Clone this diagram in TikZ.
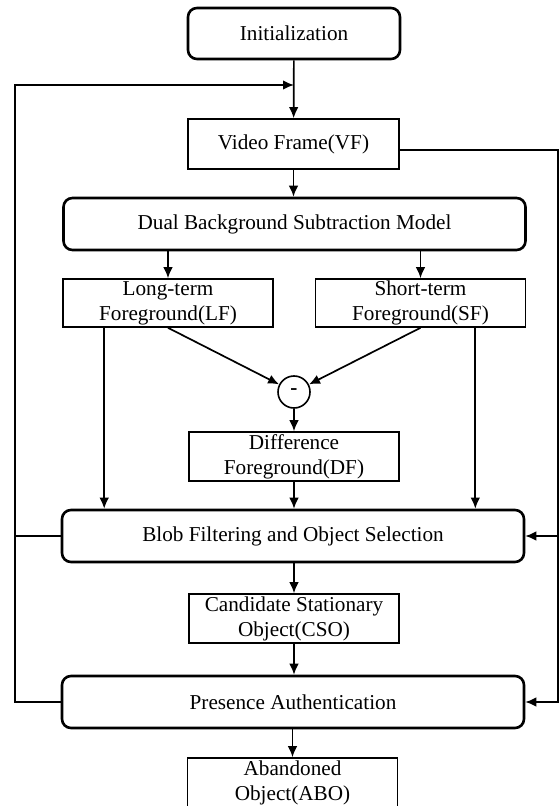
\documentclass[tikz,border=0pt]{standalone}
\usepackage{fontspec}
\setmainfont{Liberation Serif}
\usetikzlibrary{arrows.meta}

\begin{document}
\begin{tikzpicture}[x=0.5pt,y=-0.5pt,
	every node/.style={font=\rmfamily\fontsize{10.6}{12.5}\selectfont,align=center,inner sep=0pt},
	stage/.style={draw,line width=1.3pt,rounded corners=4.5pt,minimum width=231pt,minimum height=26pt},
	data/.style={draw,line width=0.8pt,minimum width=105pt,minimum height=24.5pt},
	arr/.style={line width=0.85pt,-{Latex[length=5.5pt,width=4.8pt]}}]
		\useasboundingbox (0,0) rectangle (560,806);
		\node[stage,minimum width=106pt,minimum height=25.5pt] (init) at (294,33.5) {Initialization};
		\node[data,minimum width=105.5pt,minimum height=25pt] (vf) at (293.5,144) {Video Frame(VF)};
		\node[stage] (dual) at (294.5,224) {Dual Background Subtraction Model};
		\node[data,minimum height=24pt] (lf) at (168,303) {Long-term\\Foreground(LF)};
		\node[data,minimum height=24pt] (sf) at (420.5,303) {Short-term\\Foreground(SF)};
		\node[draw,circle,line width=0.8pt,minimum size=16pt] (minus) at (294,392) {\textbf{-}};
		\node[data] (df) at (294,456.5) {Difference\\Foreground(DF)};
		\node[stage] (blob) at (293,536) {Blob Filtering and Object Selection};
		\node[data] (cso) at (294,618.5) {Candidate Stationary\\Object(CSO)};
		\node[stage] (pa) at (293,702) {Presence Authentication};
		\node[data,minimum height=25pt] (abo) at (292.5,783) {Abandoned\\Object(ABO)};
		\coordinate (loopL) at (15,85);
		\coordinate (loopR) at (558,150);
		\coordinate (lfdrop) at ([xshift=21pt]lf.south west);
		\coordinate (sfdrop) at ([xshift=-25.5pt]sf.south east);
		\draw[arr] (init) to (vf);
		\draw[arr] (vf.south) to (vf.south |- dual.north);
		\draw[arr] (lf |- dual.south) to (lf);
		\draw[arr] (sf |- dual.south) to (sf);
		\draw[arr] (lf.south) to (minus);
		\draw[arr] (sf.south) to (minus);
		\draw[arr] (minus) to (df);
		\draw[arr] (lfdrop) to (lfdrop |- blob.north);
		\draw[arr] (sfdrop) to (sfdrop |- blob.north);
		\draw[arr] (df) to (df |- blob.north);
		\draw[arr] (blob.south -| cso) to (cso);
		\draw[arr] (cso) to (cso |- pa.north);
		\draw[arr] (pa.south -| abo) to (abo);
		\draw[arr] (pa.west) -| (loopL) to (loopL -| init.south);
		\draw[line width=0.85pt] (blob.west) to (blob.west -| loopL);
		\draw[arr] (vf.east |- loopR) to (loopR) |- (pa.east);
		\draw[arr] (loopR |- blob.east) to (blob.east);
\end{tikzpicture}
\end{document}
